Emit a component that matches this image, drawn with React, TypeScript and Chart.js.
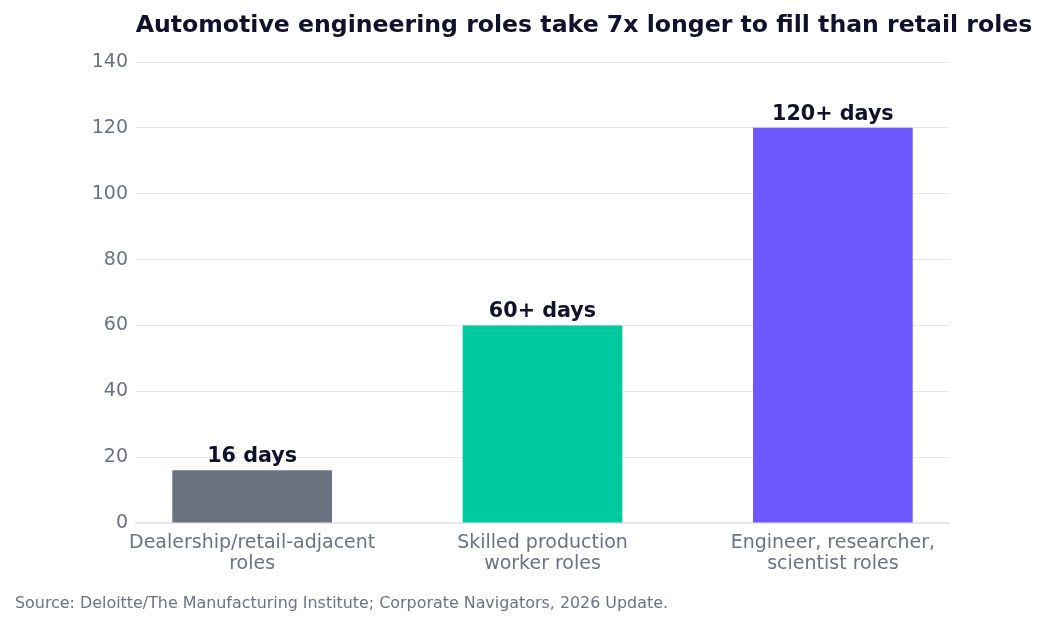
import React, { useEffect, useRef } from "react";
import { Chart, registerables } from "chart.js";

Chart.register(...registerables);

const TITLE = "Automotive engineering roles take 7x longer to fill than retail roles";
const SOURCE = "Source: Deloitte/The Manufacturing Institute; Corporate Navigators, 2026 Update.";

const categories: string[][] = [
  ["Dealership/retail-adjacent", "roles"],
  ["Skilled production", "worker roles"],
  ["Engineer, researcher,", "scientist roles"],
];
const daysToFill = [16, 60, 120];
const valueLabels = ["16 days", "60+ days", "120+ days"];
const barColors = ["#6b7280", "#00c89f", "#6e57ff"];
const yTicks = [0, 20, 40, 60, 80, 100, 120, 140];

const FONT = "'DejaVu Sans', sans-serif";
const INK = "#10112a";
const MUTED = "#6b7280";
const GRID = "#e6e6f2";

const W = 1032;
const H = 611;

// Title, source note and value labels above each bar
const annotations = {
  id: "annotations",
  afterDatasetsDraw(chart: any) {
    const { ctx } = chart;
    const meta = chart.getDatasetMeta(0);
    ctx.save();
    ctx.fillStyle = INK;
    ctx.font = `bold 20.7px ${FONT}`;
    ctx.textAlign = "center";
    ctx.textBaseline = "alphabetic";
    meta.data.forEach((bar: any, i: number) => {
      ctx.fillText(valueLabels[i], bar.x, bar.y - 8);
    });
    ctx.restore();
  },
  afterDraw(chart: any) {
    const { ctx } = chart;
    ctx.save();
    ctx.fillStyle = INK;
    ctx.font = `bold 23.6px ${FONT}`;
    ctx.textAlign = "center";
    ctx.textBaseline = "alphabetic";
    ctx.fillText(TITLE, 576, 24);
    ctx.fillStyle = MUTED;
    ctx.font = `15.9px ${FONT}`;
    ctx.textAlign = "left";
    ctx.fillText(SOURCE, 7, 600);
    ctx.restore();
  },
};

export default function App() {
  const ref = useRef<HTMLCanvasElement | null>(null);

  useEffect(() => {
    if (!ref.current) return;
    const chart = new Chart(ref.current, {
      type: "bar",
      data: {
        datasets: [
          {
            data: daysToFill.map((v, i) => ({ x: i, y: v })),
            backgroundColor: barColors,
            barPercentage: 0.55,
            categoryPercentage: 1,
            borderWidth: 0,
          },
        ],
      },
      options: {
        responsive: false,
        animation: false,
        layout: { padding: { top: 54, right: 91, left: 0, bottom: 0 } },
        plugins: {
          legend: { display: false },
          title: { display: false },
          tooltip: { enabled: false },
        },
        scales: {
          x: {
            type: "linear",
            min: -0.4,
            max: 2.4,
            offset: false,
            afterFit: (s: any) => {
              s.height = 96;
            },
            afterBuildTicks: (s: any) => {
              s.ticks = categories.map((_, i) => ({ value: i }));
            },
            grid: { display: false },
            border: { display: true, color: GRID, width: 1.5 },
            ticks: {
              color: MUTED,
              font: { family: FONT, size: 19, lineHeight: 1.1 },
              padding: 2,
              maxRotation: 0,
              autoSkip: false,
              callback: (v: any) => categories[v as number] ?? "",
            },
          },
          y: {
            min: 0,
            max: 140,
            afterFit: (s: any) => {
              s.width = 128;
            },
            afterBuildTicks: (s: any) => {
              s.ticks = yTicks.map((v) => ({ value: v }));
            },
            grid: { color: GRID, drawTicks: false, lineWidth: 1 },
            border: { display: false },
            ticks: {
              color: MUTED,
              font: { family: FONT, size: 19 },
              padding: 8,
            },
          },
        },
      },
      plugins: [annotations],
    });
    return () => chart.destroy();
  }, []);

  return <canvas ref={ref} width={W} height={H} style={{ display: "block" }} />;
}
